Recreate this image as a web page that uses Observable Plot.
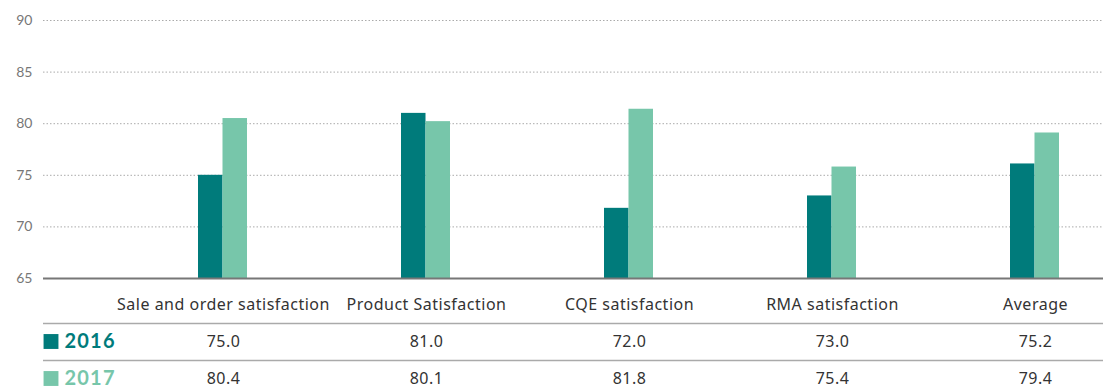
<!DOCTYPE html>
<html>
<head>
<meta charset="utf-8">
<script src="https://cdn.jsdelivr.net/npm/d3@7"></script>
<script src="https://cdn.jsdelivr.net/npm/@observablehq/plot@0.6"></script>
<style>
  html, body { margin: 0; padding: 0; background: #fff; }
  #chart svg { display: block; }
  g.cell text { letter-spacing: 0.5px; }
  g.year text { letter-spacing: 1.2px; }
</style>
</head>
<body>
<div id="chart"></div>
<script>
const categories = ["Sale and order satisfaction", "Product Satisfaction", "CQE satisfaction", "RMA satisfaction", "Average"];
const years = ["2016", "2017"];
const bars2016 = [75.0, 81.0, 71.8, 73.0, 76.1];
const bars2017 = [80.5, 80.2, 81.4, 75.8, 79.1];
const table2016 = ["75.0", "81.0", "72.0", "73.0", "75.2"];
const table2017 = ["80.4", "80.1", "81.8", "75.4", "79.4"];
const yTicks = [65, 70, 75, 80, 85, 90];
const colors = ["#007b7b", "#77c6aa"];

const font = "Lato, 'Noto Sans', sans-serif";
const cellFont = "'Noto Sans', Lato, sans-serif";
const xScale = {domain: categories, range: [121, 1136], paddingInner: 0.7586, paddingOuter: 0.3793, axis: null};

const d2016 = categories.map((c, i) => ({cat: c, v: bars2016[i], label: table2016[i]}));
const d2017 = categories.map((c, i) => ({cat: c, v: bars2017[i], label: table2017[i]}));

const barChart = Plot.plot({
  width: 1103, height: 290,
  marginTop: 20, marginBottom: 12, marginLeft: 43, marginRight: 0,
  style: {fontFamily: font, fontSize: "14px", color: "#777", background: "#fff"},
  x: xScale,
  y: {domain: [65, 90], label: null},
  marks: [
    Plot.ruleY(yTicks.filter(t => t > 65), {stroke: "#aaa", strokeDasharray: "1.5,2", strokeWidth: 1}),
    Plot.axisY({ticks: yTicks, tickSize: 0, tickPadding: 11, label: null, fill: "#777", fontSize: 14}),
    Plot.barY(d2016, {x: "cat", y1: 65, y2: "v", fill: colors[0], insetRight: 24.5}),
    Plot.barY(d2017, {x: "cat", y1: 65, y2: "v", fill: colors[1], insetLeft: 24.5}),
    Plot.ruleY([65], {stroke: "#777", strokeWidth: 2})
  ]
});

const rows = ["header", ...years];
const tableRows = [
  ...categories.map(c => ({cat: c, row: "header", label: c})),
  ...d2016.map(d => ({cat: d.cat, row: "2016", label: d.label})),
  ...d2017.map(d => ({cat: d.cat, row: "2017", label: d.label}))
];

const tableChart = Plot.plot({
  width: 1103, height: 101,
  marginTop: 0, marginBottom: 0, marginLeft: 43, marginRight: 0,
  style: {fontFamily: cellFont, fontSize: "16px", background: "#fff"},
  x: xScale,
  y: {type: "point", domain: rows, range: [14, 88], padding: 0, axis: null},
  marks: [
    Plot.ruleY(years, {y: d => d, dy: -18, stroke: "#aaa", strokeWidth: 1.5}),
    Plot.text(tableRows, {x: "cat", y: "row", text: "label", fill: "#333", fontSize: 16, className: "cell"}),
    Plot.dot(years, {y: d => d, frameAnchor: "left", dx: 7.5, r: 8.4, symbol: "square", fill: (d, i) => colors[i], stroke: null}),
    Plot.text(years, {y: d => d, text: d => d, frameAnchor: "left", textAnchor: "start", dx: 21, fill: (d, i) => colors[i], fontWeight: "bold", fontSize: 20, fontFamily: font, className: "year"})
  ]
});

document.getElementById("chart").append(barChart, tableChart);
</script>
</body>
</html>
